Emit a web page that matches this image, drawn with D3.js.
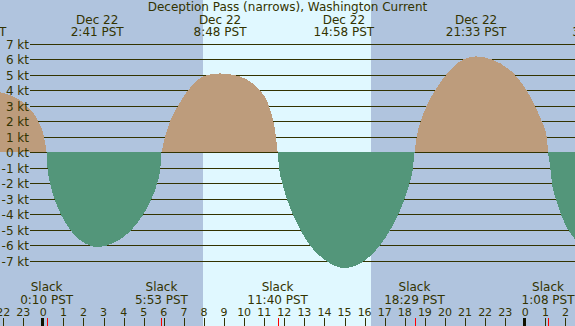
<!DOCTYPE html>
<html><head><meta charset="utf-8">
<script src="https://cdn.jsdelivr.net/npm/d3@7/dist/d3.min.js"></script>
<style>
html,body{margin:0;padding:0;background:#b0c4de;overflow:hidden}
svg{display:block}
text{font-family:"DejaVu Sans",sans-serif;fill:#333300}
</style>
</head><body><svg id="c" width="575" height="326"></svg>
<script>
// ---- data (hours measured from 0:00 Dec 22, PST) ----
const title = "Deception Pass (narrows), Washington Current";
const ktTicks = [7,6,5,4,3,2,1,0,-1,-2,-3,-4,-5,-6,-7];
const hourTicks = [-2,-1,0,1,2,3,4,5,6,7,8,9,10,11,12,13,14,15,16,17,18,19,20,21,22,23,24,25,26];
const hourLabels = ["22","23","0","1","2","3","4","5","6","7","8","9","10","11","12","13","14","15","16","17","18","19","20","21","22","23","0","1","2"];
const midnights = [0, 24];
const sunrise = 7.94, sunset = 16.32;

const extremeTimes  = [-3.35, 2.683, 8.8, 14.967, 21.55, 27.65];
const extremeDates  = ["Dec 21","Dec 22","Dec 22","Dec 22","Dec 22","Dec 23"];
const extremeLabels = ["20:39 PST","2:41 PST","8:48 PST","14:58 PST","21:33 PST","3:39 PST"];

const slackTimes  = [0.167, 5.883, 11.667, 18.483, 25.133];
const slackLabels = ["0:10 PST","5:53 PST","11:40 PST","18:29 PST","1:08 PST"];

// current speed (kt): [hour, kt]
const flood0 = [[-3.35,4.2],[-2.16,3.9],[-1.2,3.4],[-0.66,2.8],[-0.21,1.9],[0.035,1.0],[0.167,0]];
const ebb1   = [[0.167,0],[0.21,-1],[0.34,-2],[0.558,-3],[0.879,-4],[1.348,-5],[2.316,-6],[2.683,-6.1],[3.15,-6],[4.381,-5],[4.977,-4],[5.385,-3],[5.664,-2],[5.828,-1],[5.883,0]];
const flood2 = [[5.883,0],[6.06,1],[6.31,2],[6.7,3],[7.2,4],[8.15,5],[8.8,5.1],[9.5,5],[10.79,4],[11.238,3],[11.453,2],[11.587,1],[11.667,0]];
const ebb3   = [[11.667,0],[11.741,-1],[11.902,-2],[12.132,-3],[12.428,-4],[12.802,-5],[13.288,-6],[14.1,-7],[14.967,-7.45],[15.97,-7],[16.756,-6],[17.274,-5],[17.672,-4],[17.987,-3],[18.232,-2],[18.404,-1],[18.483,0]];
const flood4 = [[18.483,0],[18.59,1],[18.79,2],[19.09,3],[19.5,4],[20.05,5],[20.91,6],[21.55,6.2],[22.33,6],[23.49,5],[24.07,4],[24.48,3],[24.82,2],[25.07,1],[25.133,0]];
const ebb5   = [[25.133,0],[25.245,-1],[25.33,-2],[25.529,-3],[25.778,-4],[26.141,-5],[26.475,-5.6],[27.65,-6.5]];

// ---- colours ----
const nightColor = "#b0c4de", dayColor = "#e0f8ff";
const floodColor = "#bd9c7c", ebbColor = "#53967a";
const ink = "#333300";

const W = 575, H = 326;
const svg = d3.select("#c");
const x = d3.scaleLinear().domain([0, 24]).range([43.3, 525.3]);
const y = d3.scaleLinear().domain([-7, 7]).range([261, 44]);
const base = Math.floor(y(0)); // top edge of zero line row

svg.append("rect").attr("width", W).attr("height", H).attr("fill", nightColor);
svg.append("rect").attr("x", x(sunrise)).attr("y", 0)
  .attr("width", x(sunset) - x(sunrise)).attr("height", H).attr("fill", dayColor)
  .attr("shape-rendering", "crispEdges");

// grid lines
svg.append("g").selectAll("line").data(ktTicks).join("line")
  .attr("x1", 30).attr("x2", W)
  .attr("y1", d => Math.floor(y(d)) + 0.5).attr("y2", d => Math.floor(y(d)) + 0.5)
  .attr("stroke", ink).attr("stroke-width", 1).attr("shape-rendering", "crispEdges");

const area = d3.area().x(d => x(d[0])).y0(base).y1(d => y(d[1])).curve(d3.curveMonotoneX);
const arcs = [[flood0, floodColor],[ebb1, ebbColor],[flood2, floodColor],[ebb3, ebbColor],[flood4, floodColor],[ebb5, ebbColor]];
// floods first, then ebbs (ebbs cover the zero line)
arcs.filter(a => a[1] === floodColor).concat(arcs.filter(a => a[1] === ebbColor)).forEach(a => {
  svg.append("path").datum(a[0]).attr("d", area).attr("fill", a[1]).attr("shape-rendering", "crispEdges");
});

// kt labels
svg.append("g").selectAll("text").data(ktTicks).join("text")
  .attr("x", 29).attr("y", d => Math.floor(y(d)) + 4.5)
  .attr("text-anchor", "end").attr("font-size", 12)
  .text(d => d + " kt");

// title
svg.append("text").attr("x", W / 2).attr("y", 11).attr("text-anchor", "middle")
  .attr("font-size", 12).text(title);

// extremes
const ex = svg.append("g").selectAll("g").data(extremeTimes).join("g");
ex.append("text").attr("x", d => x(d)).attr("y", 24).attr("text-anchor", "middle")
  .attr("font-size", 12).text((d, i) => extremeDates[i]);
ex.append("text").attr("x", d => x(d)).attr("y", 36).attr("text-anchor", "middle")
  .attr("font-size", 12).text((d, i) => extremeLabels[i]);

// slack labels
const sl = svg.append("g").selectAll("g").data(slackTimes).join("g");
sl.append("text").attr("x", d => x(d)).attr("y", 291).attr("text-anchor", "middle")
  .attr("font-size", 12).text("Slack");
sl.append("text").attr("x", d => x(d)).attr("y", 304).attr("text-anchor", "middle")
  .attr("font-size", 12).text((d, i) => slackLabels[i]);

// hour labels and ticks
svg.append("g").selectAll("text").data(hourTicks).join("text")
  .attr("x", d => x(d)).attr("y", 316).attr("text-anchor", "middle")
  .attr("font-size", 11).text((d, i) => hourLabels[i]);
svg.append("g").selectAll("line").data(hourTicks).join("line")
  .attr("x1", d => Math.round(x(d)) + 0.5).attr("x2", d => Math.round(x(d)) + 0.5)
  .attr("y1", 318).attr("y2", H)
  .attr("stroke", ink).attr("stroke-width", 1).attr("shape-rendering", "crispEdges");
svg.append("g").selectAll("rect").data(midnights).join("rect")
  .attr("x", d => Math.round(x(d)) - 2).attr("y", 318).attr("width", 3).attr("height", H - 318)
  .attr("fill", "#111100").attr("shape-rendering", "crispEdges");
svg.append("g").selectAll("line").data(slackTimes).join("line")
  .attr("x1", d => Math.round(x(d)) + 0.5).attr("x2", d => Math.round(x(d)) + 0.5)
  .attr("y1", 318).attr("y2", H)
  .attr("stroke", "#ff0000").attr("stroke-width", 1).attr("shape-rendering", "crispEdges");
</script></body></html>
